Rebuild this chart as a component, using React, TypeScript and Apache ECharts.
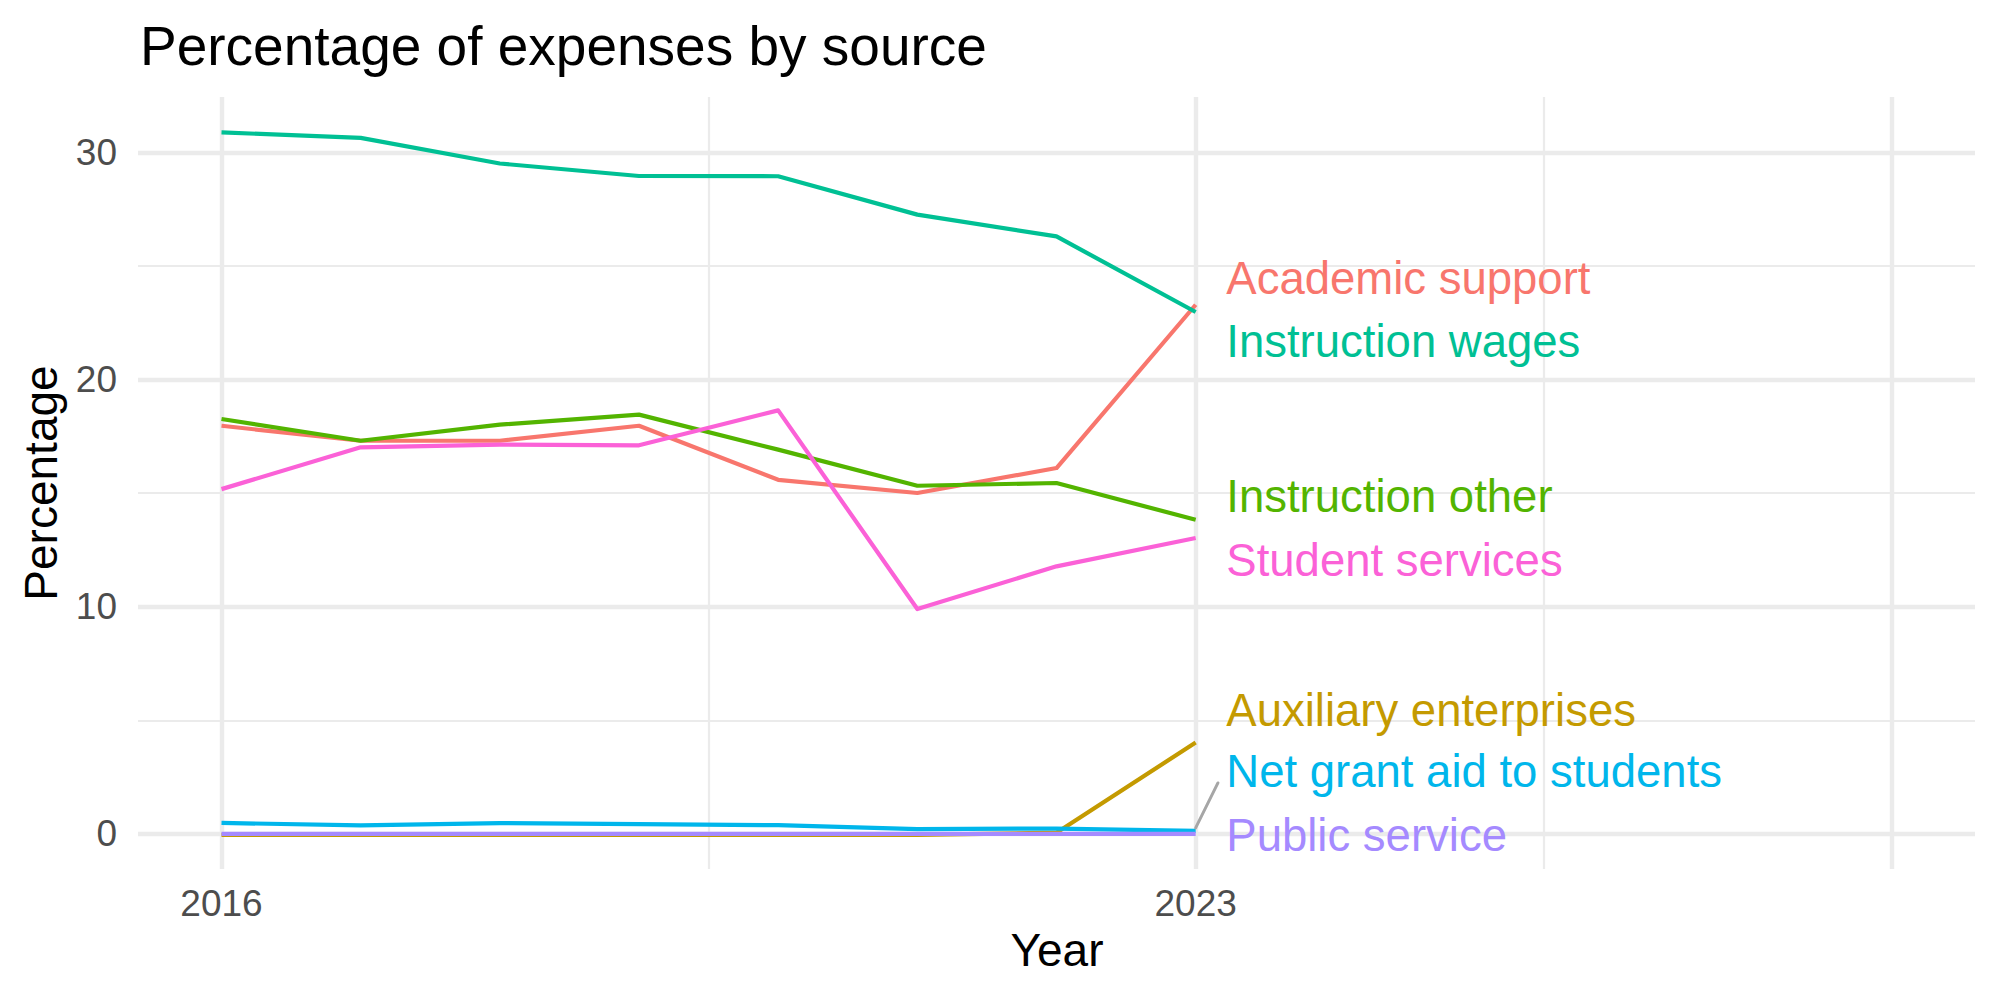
import React, { useEffect, useRef } from "react";
import * as echarts from "echarts";

const years = [2016, 2017, 2018, 2019, 2020, 2021, 2022, 2023];
const seriesNames = [
  "Academic support",
  "Auxiliary enterprises",
  "Instruction other",
  "Instruction wages",
  "Net grant aid to students",
  "Public service",
  "Student services",
];
const academicSupport = [17.97, 17.31, 17.31, 17.97, 15.59, 15.01, 16.11, 23.3];
const auxiliaryEnterprises = [-0.05, -0.05, -0.05, -0.05, -0.05, -0.05, 0.05, 4.02];
const instructionOther = [18.27, 17.31, 18.02, 18.46, 16.92, 15.33, 15.45, 13.83];
const instructionWages = [30.89, 30.65, 29.52, 28.97, 28.96, 27.27, 26.31, 22.98];
const netGrantAid = [0.48, 0.37, 0.47, 0.43, 0.38, 0.21, 0.23, 0.13];
const publicService = [0, 0, 0, 0, 0, 0, 0, 0];
const studentServices = [15.18, 17.02, 17.14, 17.11, 18.65, 9.9, 11.78, 13.03];

// label anchor positions (data units, as placed by the repel layout)
const labelX = 2023.22;
const labelY = [24.45, 5.42, 14.85, 21.67, 2.73, -0.09, 12.03];
// connector segment for "Public service"
const segmentX = [2023.0, 2023.16];
const segmentY = [0.26, 2.24];

const xTickLabels = [2016, 2023];
const yTickLabels = [0, 10, 20, 30];
const xMajorGrid = [2016, 2023, 2028];
const xMinorGrid = [2019.5, 2025.5];
const yMajorGrid = [0, 10, 20, 30];
const yMinorGrid = [5, 15, 25];

const colors = ["#F8766D", "#C49A00", "#53B400", "#00C094", "#00B6EB", "#A58AFF", "#FB61D7"];
const FONT = "Liberation Sans, Arial, Helvetica, sans-serif";

export default function App() {
  const ref = useRef<HTMLDivElement>(null);
  useEffect(() => {
    if (!ref.current) return;
    const chart = echarts.init(ref.current, null, { renderer: "svg" });
    const values = [
      academicSupport,
      auxiliaryEnterprises,
      instructionOther,
      instructionWages,
      netGrantAid,
      publicService,
      studentServices,
    ];
    const gridLine = (w: number) => ({ color: "#EBEBEB", width: w, type: "solid" as const });
    const markData = [
      ...xMinorGrid.map((v) => ({ xAxis: v, lineStyle: gridLine(2.2) })),
      ...yMinorGrid.map((v) => ({ yAxis: v, lineStyle: gridLine(2.2) })),
      ...xMajorGrid.map((v) => ({ xAxis: v, lineStyle: gridLine(4.4) })),
      ...yMajorGrid.map((v) => ({ yAxis: v, lineStyle: gridLine(4.4) })),
    ];
    const lineSeries = seriesNames.map((name, i) => ({
      type: "line",
      name,
      z: 3,
      data: years.map((y, j) => [y, values[i][j]]),
      showSymbol: false,
      symbol: "none",
      silent: true,
      lineStyle: { color: colors[i], width: 4.2, join: "round", cap: "butt" },
      itemStyle: { color: colors[i] },
    }));
    const baseGraphics: any[] = [
      {
        type: "text",
        left: 140,
        top: 18,
        z: 100,
        style: { text: "Percentage of expenses by source", fontSize: 55, fontFamily: FONT, fill: "#000000" },
      },
      {
        type: "text",
        x: 1057,
        y: 950,
        z: 100,
        style: {
          text: "Year",
          fontSize: 46,
          fontFamily: FONT,
          fill: "#000000",
          align: "center",
          verticalAlign: "middle",
        },
      },
      {
        type: "text",
        x: 41,
        y: 483,
        z: 100,
        rotation: Math.PI / 2,
        style: {
          text: "Percentage",
          fontSize: 46,
          fontFamily: FONT,
          fill: "#000000",
          align: "center",
          verticalAlign: "middle",
        },
      },
    ];
    const option: any = {
      animation: false,
      backgroundColor: "#FFFFFF",
      textStyle: { fontFamily: FONT },
      grid: { left: 138, right: 25, top: 97, bottom: 131, containLabel: false },
      xAxis: {
        type: "value",
        min: 2015.4,
        max: 2028.6,
        axisLine: { show: false },
        axisTick: { show: false },
        splitLine: { show: false },
        axisLabel: {
          customValues: xTickLabels,
          color: "#4D4D4D",
          fontSize: 37,
          fontFamily: FONT,
          margin: 34,
          verticalAlign: "middle",
          formatter: (v: number) => String(v),
        },
      },
      yAxis: {
        type: "value",
        min: -1.55,
        max: 32.45,
        axisLine: { show: false },
        axisTick: { show: false },
        splitLine: { show: false },
        axisLabel: {
          customValues: yTickLabels,
          color: "#4D4D4D",
          fontSize: 37,
          fontFamily: FONT,
          margin: 21,
          formatter: (v: number) => String(v),
        },
      },
      graphic: baseGraphics,
      series: [
        {
          type: "line",
          name: "grid",
          z: 1,
          data: [],
          silent: true,
          markLine: {
            silent: true,
            z: 1,
            symbol: ["none", "none"],
            label: { show: false },
            emphasis: { disabled: true },
            data: markData,
          },
        },
        ...lineSeries,
        {
          type: "line",
          name: "segment",
          z: 3,
          silent: true,
          showSymbol: false,
          symbol: "none",
          data: segmentX.map((x, i) => [x, segmentY[i]]),
          lineStyle: { color: "#A6A6A6", width: 3, cap: "round" },
        },
      ],
    };
    chart.setOption(option);
    const labelGraphics = seriesNames.map((name, i) => {
      const p = chart.convertToPixel({ xAxisIndex: 0, yAxisIndex: 0 }, [labelX, labelY[i]]) as number[];
      return {
        type: "text",
        x: p[0],
        y: p[1],
        z: 100,
        silent: true,
        style: {
          text: name,
          fontSize: 45.5,
          fontFamily: FONT,
          fill: colors[i],
          align: "left",
          verticalAlign: "middle",
        },
      };
    });
    chart.setOption({ graphic: [...baseGraphics, ...labelGraphics] });
    return () => chart.dispose();
  }, []);
  return (
    <div
      ref={ref}
      style={{ position: "fixed", left: 0, top: 0, width: 2000, height: 1000, background: "#fff" }}
    />
  );
}
